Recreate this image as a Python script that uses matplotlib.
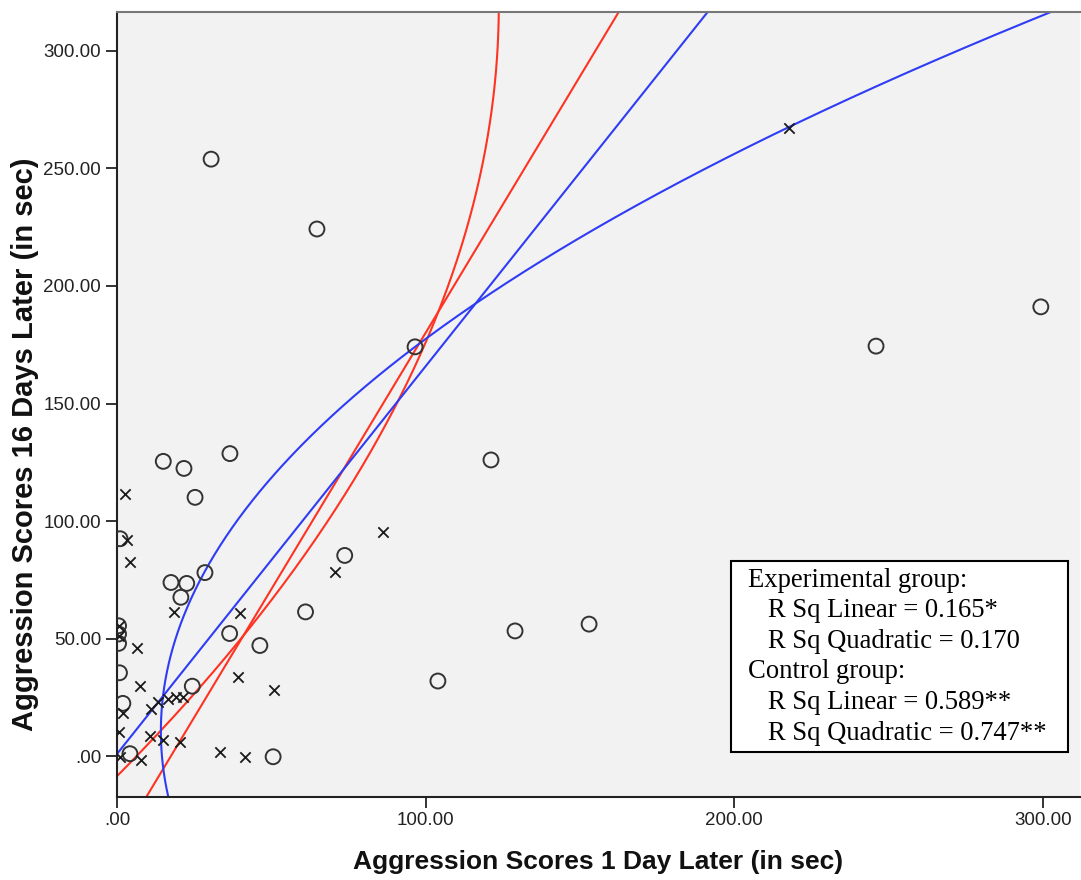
import numpy as np
import matplotlib.pyplot as plt
from matplotlib.patches import Rectangle

# experimental group (circles)
exp_x = [30.5, 64.8, 96.6, 299.4, 246.0, 121.2, 15.0, 36.6, 21.7, 25.3,
         73.8, 28.5, 17.5, 22.6, 20.7, 61.1, 36.5, 46.3, 129.0, 153.0,
         104.0, 24.4, 50.6, 4.2, 1.9, 0.8, 0.5, 0.5, 0.5, 1.0]
exp_y = [253.9, 224.2, 174.1, 191.1, 174.4, 126.0, 125.4, 128.7, 122.4, 110.1,
         85.4, 78.1, 73.9, 73.5, 67.6, 61.4, 52.2, 47.1, 53.3, 56.2,
         32.0, 29.8, -0.2, 1.1, 22.5, 35.5, 48.0, 52.0, 55.5, 92.5]

# control group (crosses)
ctl_x = [217.8, 2.6, 3.1, 4.2, 18.5, 39.9, 86.1, 70.6, 0.6, 0.6,
         6.5, 39.3, 50.8, 7.3, 13.3, 16.5, 19.0, 21.5, 11.1, 1.9,
         0.8, 10.6, 14.9, 20.3, 33.4, 41.5, 7.9, 0.9]
ctl_y = [267.0, 111.5, 92.0, 82.7, 61.5, 60.8, 95.5, 78.5, 51.0, 55.5,
         45.9, 33.6, 28.0, 29.8, 23.2, 24.5, 25.0, 25.3, 20.0, 18.3,
         10.3, 8.5, 6.9, 6.2, 1.7, -0.2, -1.6, -0.2]

# fit lines
exp_lin = [-38.0, 2.180]            # y = a + b*x
exp_quad = [6.3, 0.735, -0.00115]   # x = a + b*y + c*y^2
ctl_lin = [1.0, 1.648]
ctl_quad = [14.57, -0.06587, 0.0030846]

legend_lines = ["Experimental group:",
                "   R Sq Linear = 0.165*",
                "   R Sq Quadratic = 0.170",
                "Control group:",
                "   R Sq Linear = 0.589**",
                "   R Sq Quadratic = 0.747**"]

xmin, xmax = 0, 312.1
ymin, ymax = -17.1, 316.6
red = '#ff3322'
blue = '#2f3cf5'

fig = plt.figure(figsize=(10.81, 8.8), dpi=100)
ax = fig.add_axes([117/1081, 83.5/880, 963/1081, 784.8/880])
ax.set_facecolor('#f2f2f2')

xs = np.linspace(xmin, xmax, 400)
ys = np.linspace(ymin, ymax, 800)
ax.plot(xs, exp_lin[0] + exp_lin[1]*xs, color=red, lw=1.5, zorder=2)
ax.plot(exp_quad[0] + exp_quad[1]*ys + exp_quad[2]*ys**2, ys, color=red, lw=1.5, zorder=2)
ax.plot(xs, ctl_lin[0] + ctl_lin[1]*xs, color=blue, lw=1.5, zorder=2)
ax.plot(ctl_quad[0] + ctl_quad[1]*ys + ctl_quad[2]*ys**2, ys, color=blue, lw=1.5, zorder=2)

ax.scatter(exp_x, exp_y, s=115, facecolors='none', edgecolors='#333333', linewidths=1.4, zorder=3)
ax.scatter(ctl_x, ctl_y, s=55, marker='x', color='#1a1a1a', linewidths=1.3, zorder=3)

ax.set_xlim(xmin, xmax)
ax.set_ylim(ymin, ymax)
ax.set_xticks([0, 100, 200, 300])
ax.set_xticklabels(['.00', '100.00', '200.00', '300.00'])
ax.set_yticks([0, 50, 100, 150, 200, 250, 300])
ax.set_yticklabels(['.00', '50.00', '100.00', '150.00', '200.00', '250.00', '300.00'])
ax.tick_params(length=8, width=1.3, color='#222222', labelsize=13.5, labelcolor='#222222')
for lab in ax.get_xticklabels() + ax.get_yticklabels():
    lab.set_family('Liberation Sans')

for s in ['left', 'bottom']:
    ax.spines[s].set_color('#222222')
    ax.spines[s].set_linewidth(1.5)
ax.spines['top'].set_color('#777777')
ax.spines['top'].set_linewidth(1.5)
ax.spines['right'].set_visible(False)

ax.set_xlabel('Aggression Scores 1 Day Later (in sec)', family='Liberation Sans',
              fontweight='bold', fontsize=19, color='#111111', va='center')
ax.set_ylabel('Aggression Scores 16 Days Later (in sec)', family='Liberation Sans',
              fontweight='bold', fontsize=21, color='#111111', va='center')
ax.xaxis.set_label_coords(0.5, (796.5 - 862) / 784.8)
ax.yaxis.set_label_coords((25 - 117) / 963, (796.5 - 444) / 784.8)

# R square box
bx0 = (731 - 117) / 963
bx1 = (1067.7 - 117) / 963
by0 = (796.5 - 752.3) / 784.8
by1 = (796.5 - 561) / 784.8
ax.add_patch(Rectangle((bx0, by0), bx1 - bx0, by1 - by0, transform=ax.transAxes,
                       facecolor='white', edgecolor='black', lw=1.5, zorder=5))
for i, line in enumerate(legend_lines):
    ypx = 580 + i * 30.6
    ax.text((748 - 117) / 963, (796.5 - ypx) / 784.8, line, transform=ax.transAxes,
            family='Liberation Serif', fontsize=19.2, va='center', ha='left', zorder=6)

fig.savefig('out.png', dpi=100)
